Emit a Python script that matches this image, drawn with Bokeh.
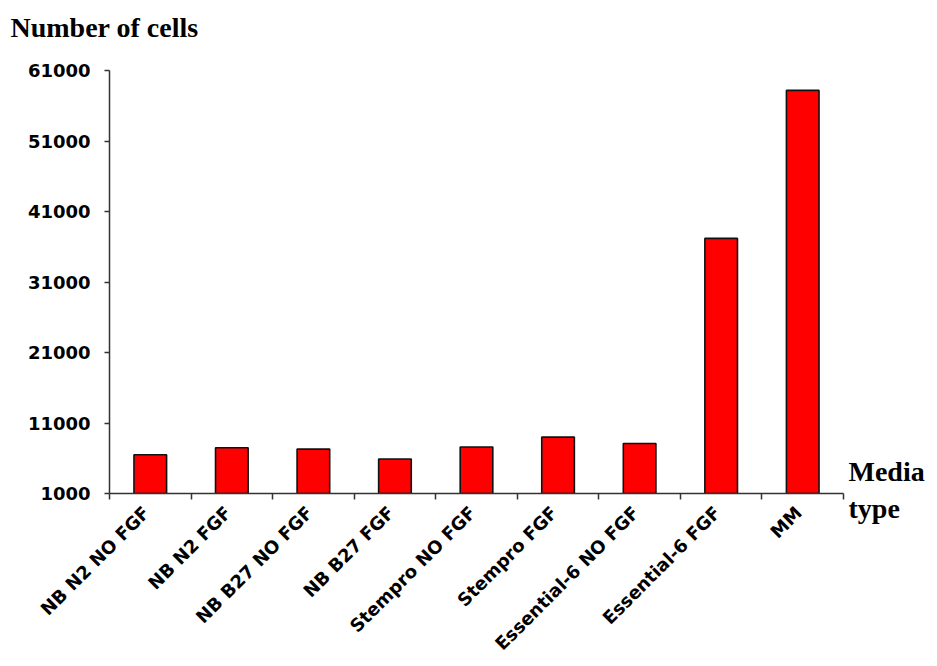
import math
from bokeh.plotting import figure
from bokeh.models import Range1d, LinearAxis, FixedTicker, ColumnDataSource
from bokeh.embed import file_html
from bokeh.resources import INLINE

# ---- data ----
media = ["NB N2 NO FGF", "NB N2 FGF", "NB B27 NO FGF", "NB B27 FGF",
         "Stempro NO FGF", "Stempro FGF", "Essential-6 NO FGF",
         "Essential-6 FGF", "MM"]
cells = [6500, 7500, 7300, 5900, 7600, 9000, 8100, 37200, 58200]
y_ticks = [1000, 11000, 21000, 31000, 41000, 51000, 61000]
baseline = 1000

W, H = 930, 664
p = figure(x_range=media, y_range=Range1d(1000, 64000), width=W, height=H,
           output_backend="svg", toolbar_location=None, x_axis_type=None,
           min_border_left=109, min_border_right=87, min_border_top=49,
           min_border_bottom=171)
p.outline_line_color = None
p.xgrid.grid_line_color = None
p.ygrid.grid_line_color = None
p.background_fill_color = "white"
p.border_fill_color = "white"

# title
p.title.text = "Number of cells"
p.title.align = "left"
p.title.offset = -99
p.title.standoff = 14
p.title.text_font = "Liberation Serif"
p.title.text_font_style = "bold"
p.title.text_font_size = "28px"
p.title.text_color = "black"

src = ColumnDataSource(dict(media=media, cells=cells))
p.vbar(x="media", top="cells", bottom=baseline, width=0.4, source=src,
       fill_color="#ff0000", line_color="#111111", line_width=1.6)

AX = "#333333"

# y axis
ya = p.yaxis[0]
ya.ticker = FixedTicker(ticks=y_ticks)
ya.bounds = (y_ticks[0], y_ticks[-1])
ya.axis_line_color = AX
ya.axis_line_width = 1.5
ya.major_tick_line_color = AX
ya.major_tick_line_width = 1.5
ya.major_tick_in = 0
ya.major_tick_out = 5
ya.minor_tick_line_color = None
ya.major_label_standoff = 14
ya.major_label_text_font = "DejaVu Sans"
ya.major_label_text_font_style = "bold"
ya.major_label_text_font_size = "18px"
ya.major_label_text_color = "black"

# x axis: boundary ticks (minor) + rotated category labels (major, hidden ticks)
n = len(media)
label_pos = [i + 0.45 for i in range(n)]          # synthetic factor coords
xa = LinearAxis(ticker=FixedTicker(ticks=label_pos,
                                   minor_ticks=list(range(n + 1))))
xa.major_label_overrides = {pos: name for pos, name in zip(label_pos, media)}
xa.major_label_orientation = math.pi / 4
xa.major_label_standoff = 10
xa.major_label_text_font = "DejaVu Sans"
xa.major_label_text_font_style = "bold"
xa.major_label_text_font_size = "18px"
xa.major_label_text_color = "black"
xa.axis_line_color = AX
xa.axis_line_width = 1.5
xa.major_tick_line_color = None
xa.major_tick_in = 0
xa.major_tick_out = 0
xa.minor_tick_line_color = AX
xa.minor_tick_line_width = 1.5
xa.minor_tick_in = 0
xa.minor_tick_out = 6
p.add_layout(xa, "below")

# right-hand axis carrying the x-axis name "Media type"
ra = LinearAxis(ticker=FixedTicker(ticks=[1470]))
ra.major_label_overrides = {1470: "Media\ntype"}
ra.axis_line_color = None
ra.major_tick_line_color = None
ra.minor_tick_line_color = None
ra.major_tick_out = 0
ra.major_tick_in = 0
ra.major_label_standoff = 5
ra.major_label_text_font = "Liberation Serif"
ra.major_label_text_font_style = "bold"
ra.major_label_text_font_size = "28px"
ra.major_label_text_color = "black"
p.add_layout(ra, "right")

open("out.html", "w").write(file_html(p, INLINE))
